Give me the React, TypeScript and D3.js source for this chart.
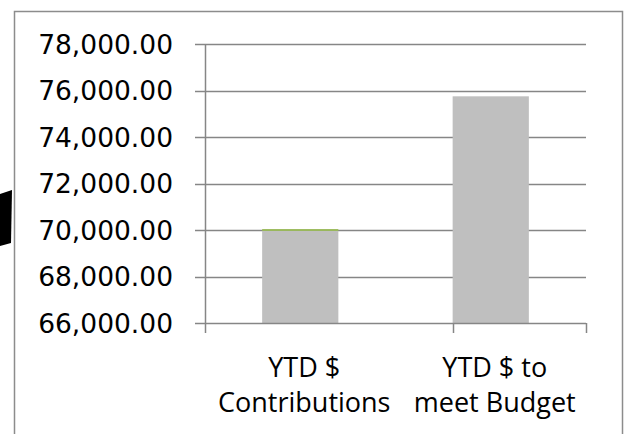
import * as d3 from 'd3';
import { useEffect, useRef } from 'react';

const categories = ['YTD $|Contributions', 'YTD $ to|meet Budget'];
const values = [69960, 75750];
const topSeries = [80, 0];
const yTicks = [66000, 68000, 70000, 72000, 74000, 76000, 78000];

const W = 629;
const H = 434;

export default function App() {
  const svgRef = useRef<SVGSVGElement>(null);

  useEffect(() => {
    if (!svgRef.current) return;
    const svg = d3.select(svgRef.current);
    svg.selectAll('*').remove();

    const left = 205;
    const right = 586;
    const top = 44;
    const bottom = 323;
    const grey = '#868686';

    // chart frame (extends below the photo edge)
    svg
      .append('rect')
      .attr('x', 14.5)
      .attr('y', 11.5)
      .attr('width', 608)
      .attr('height', 440)
      .attr('fill', '#fff')
      .attr('stroke', '#8c8c8c')
      .attr('stroke-width', 1.5);

    // stray black blob at the left edge
    svg
      .append('path')
      .attr('d', 'M0,194 L12,190 L11,243 L0,246 Z')
      .attr('fill', '#000');

    const y = d3.scaleLinear().domain([66000, 78000]).range([bottom, top]);
    const x = d3
      .scaleBand<string>()
      .domain(categories)
      .range([left, right])
      .paddingInner(0.6)
      .paddingOuter(0.3);
    const step = x.step();

    const g = svg.append('g');

    // gridlines
    g.selectAll('line.grid')
      .data(yTicks.slice(1))
      .join('line')
      .attr('x1', left)
      .attr('x2', right)
      .attr('y1', (d) => Math.round(y(d)) + 0.5)
      .attr('y2', (d) => Math.round(y(d)) + 0.5)
      .attr('stroke', grey)
      .attr('stroke-width', 1.5);

    // bars
    g.selectAll('rect.bar')
      .data(values)
      .join('rect')
      .attr('x', (_, i) => x(categories[i]) ?? 0)
      .attr('y', (d) => y(d))
      .attr('width', x.bandwidth())
      .attr('height', (d) => bottom - y(d))
      .attr('fill', '#bfbfbf');

    g.selectAll('rect.top')
      .data(topSeries)
      .join('rect')
      .attr('x', (_, i) => x(categories[i]) ?? 0)
      .attr('y', (d, i) => y(values[i] + d))
      .attr('width', x.bandwidth())
      .attr('height', (d, i) => y(values[i]) - y(values[i] + d))
      .attr('fill', '#9bbb59');

    // y axis
    g.append('line')
      .attr('x1', left + 0.5)
      .attr('x2', left + 0.5)
      .attr('y1', top)
      .attr('y2', bottom)
      .attr('stroke', grey)
      .attr('stroke-width', 1.5);
    g.selectAll('line.ytick')
      .data(yTicks)
      .join('line')
      .attr('x1', left - 10)
      .attr('x2', left)
      .attr('y1', (d) => Math.round(y(d)) + 0.5)
      .attr('y2', (d) => Math.round(y(d)) + 0.5)
      .attr('stroke', grey)
      .attr('stroke-width', 1.5);
    g.selectAll('text.ylab')
      .data(yTicks)
      .join('text')
      .attr('x', 173)
      .attr('y', (d) => y(d) + 9.5)
      .attr('text-anchor', 'end')
      .attr('font-family', 'DejaVu Sans')
      .attr('font-size', 26.5)
      .attr('fill', '#000')
      .text((d) => d3.format(',.2f')(d));

    // x axis
    g.append('line')
      .attr('x1', left)
      .attr('x2', right)
      .attr('y1', bottom + 0.5)
      .attr('y2', bottom + 0.5)
      .attr('stroke', grey)
      .attr('stroke-width', 1.5);
    const bounds = [left, left + step * 0.3 + step, right];
    g.selectAll('line.xtick')
      .data(bounds)
      .join('line')
      .attr('x1', (d) => Math.round(d) + 0.5)
      .attr('x2', (d) => Math.round(d) + 0.5)
      .attr('y1', bottom)
      .attr('y2', bottom + 10)
      .attr('stroke', grey)
      .attr('stroke-width', 1.5);

    const labels = g
      .selectAll('text.xlab')
      .data(categories)
      .join('text')
      .attr('text-anchor', 'middle')
      .attr('font-family', 'Open Sans')
      .attr('font-size', 27)
      .attr('fill', '#000');
    labels.each(function (d) {
      const cx = (x(d) ?? 0) + x.bandwidth() / 2 + 4;
      const t = d3.select(this);
      d.split('|').forEach((part, j) => {
        t.append('tspan')
          .attr('x', cx)
          .attr('y', 377 + j * 35)
          .text(part);
      });
    });
  }, []);

  return (
    <svg
      ref={svgRef}
      width={W}
      height={H}
      style={{ position: 'absolute', left: 0, top: 0, background: '#fff' }}
    />
  );
}
